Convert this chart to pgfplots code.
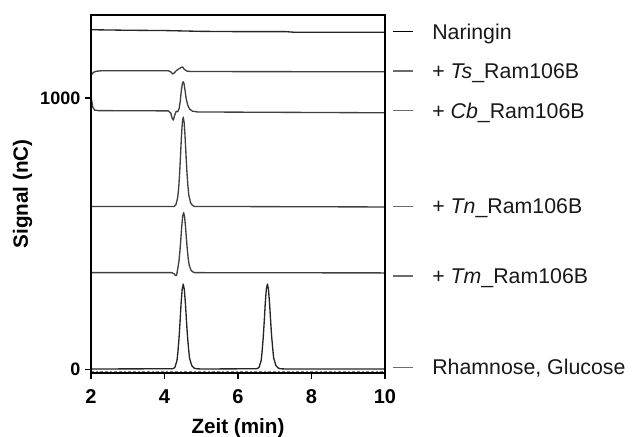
\documentclass[border=0pt]{standalone}
\usepackage{pgfplots}
\pgfplotsset{compat=1.18}
\usepackage{fontspec}
\setmainfont{Liberation Sans}
\definecolor{trace}{gray}{0.25}
\definecolor{leg}{gray}{0.42}
\begin{document}
\begin{tikzpicture}
\path[use as bounding box] (-68.25pt,-47.6pt) rectangle (405.75pt,279.4pt);
\begin{axis}[
  at={(0,0)}, anchor=south west,
  scale only axis, width=220.5pt, height=268.1pt,
  xmin=2, xmax=10, ymin=-11, ymax=1306,
  xtick={2,4,6,8,10}, ytick={0,1000},
  tick align=outside, major tick length=4.5pt,
  tick style={black, line width=1.3pt},
  xtick pos=bottom, ytick pos=left,
  /pgf/number format/assume math mode=true,
  /pgf/number format/1000 sep={},
  xticklabel style={font=\fontsize{15}{17}\selectfont\bfseries, yshift=-5pt},
  yticklabel style={font=\fontsize{13.5}{16}\selectfont\bfseries},
  xlabel={Zeit (min)}, ylabel={Signal (nC)},
  label style={font=\fontsize{15.5}{18}\selectfont\bfseries},
  xlabel style={at={(axis description cs:0.5,-0.1693)}, anchor=base},
  ylabel style={at={(axis description cs:-0.2145,0.5)}, anchor=base, rotate=0},
  clip=false,
]
% Naringin
\addplot[black!85, no marks, line width=1pt] coordinates {(2,1252) (3,1250) (4,1249) (5,1246) (6,1245) (7.3,1245) (7.5,1243) (10,1243)};
% Ts_Ram106B
\addplot[trace, no marks, line width=1pt, line join=round] coordinates {(2,1082) (2.03,1090) (2.08,1096) (2.15,1099) (2.3,1101) (4.1,1101) (4.17,1097) (4.22,1089) (4.26,1092) (4.32,1101) (4.38,1107) (4.44,1112) (4.49,1115) (4.54,1106) (4.6,1100) (4.7,1098) (10,1097)};
% Cb_Ram106B
\addplot[trace, no marks, line width=1pt, line join=round] coordinates {(2,1008) (2.02,990) (2.05,966) (2.1,956) (2.2,954) (4.1,953) (4.17,945) (4.21,925) (4.24,919) (4.28,938) (4.32,952) (4.36,950) (4.40,962) (4.43,990) (4.46,1030) (4.49,1056) (4.51,1060) (4.53,1055) (4.56,1028) (4.59,998) (4.63,975) (4.68,960) (4.76,952) (4.9,949) (10,946)};
% Tn_Ram106B
\addplot[trace, no marks, line width=1pt, line join=round] coordinates {(2,601) (4.26,601) (4.31,607) (4.36,634) (4.385,667) (4.41,719) (4.435,785) (4.46,856) (4.485,910) (4.51,930) (4.535,910) (4.56,858) (4.585,792) (4.61,729) (4.635,680) (4.66,644) (4.71,614) (4.76,605) (4.81,601) (10,599)};
% Tm_Ram106B
\addplot[trace, no marks, line width=1pt, line join=round] coordinates {(2,357) (4.2,357) (4.27,352) (4.3,346) (4.33,348) (4.37,379) (4.395,401) (4.42,437) (4.445,481) (4.47,528) (4.495,565) (4.52,578) (4.545,565) (4.57,529) (4.595,485) (4.62,443) (4.645,410) (4.67,386) (4.72,366) (4.77,360) (4.82,357) (10,356)};
% Rhamnose, Glucose
\addplot[black!85, no marks, line width=1pt, line join=round] coordinates {(2,2) (4.22,3) (4.28,7) (4.34,33) (4.365,65) (4.395,115) (4.424,177) (4.452,245) (4.481,296) (4.51,315) (4.539,296) (4.568,246) (4.596,184) (4.625,124) (4.655,77) (4.68,43) (4.74,15) (4.80,6) (4.86,3) (5.0,2)
 (6.51,3) (6.57,7) (6.63,33) (6.655,65) (6.685,115) (6.714,177) (6.742,245) (6.771,296) (6.80,315) (6.829,296) (6.858,246) (6.886,184) (6.915,124) (6.945,77) (6.97,43) (7.03,15) (7.09,6) (7.15,3) (7.3,2) (10,2)};
\addplot[gray, no marks, line width=0.6pt, dash pattern=on 2pt off 1.5pt] coordinates {(2,-5) (10,-5)};
% heavier frame
\draw[black, line width=1.5pt] (rel axis cs:0,0) rectangle (rel axis cs:1,1);
% right-hand labels
\begin{scope}[every node/.style={font=\fontsize{16}{19}\selectfont, anchor=base west, inner sep=0pt, yshift=-5.7pt, text=black!90}]
\draw[black, line width=0.9pt] ([xshift=6pt]axis cs:10,1245) -- ([xshift=21pt]axis cs:10,1245);
\node at ([xshift=35.25pt]axis cs:10,1245) {Naringin};
\draw[leg, line width=0.9pt] ([xshift=6pt]axis cs:10,1100) -- ([xshift=21pt]axis cs:10,1100);
\node at ([xshift=35.25pt]axis cs:10,1100) {+ \textit{Ts}\_Ram106B};
\draw[leg, line width=0.9pt] ([xshift=6pt]axis cs:10,953) -- ([xshift=21pt]axis cs:10,953);
\node at ([xshift=35.25pt]axis cs:10,953) {+ \textit{Cb}\_Ram106B};
\draw[leg, line width=0.9pt] ([xshift=6pt]axis cs:10,602) -- ([xshift=21pt]axis cs:10,602);
\node at ([xshift=35.25pt]axis cs:10,602) {+ \textit{Tn}\_Ram106B};
\draw[leg, line width=0.9pt] ([xshift=6pt]axis cs:10,345) -- ([xshift=21pt]axis cs:10,345);
\node at ([xshift=35.25pt]axis cs:10,345) {+ \textit{Tm}\_Ram106B};
\draw[leg, line width=0.9pt] ([xshift=6pt]axis cs:10,9) -- ([xshift=21pt]axis cs:10,9);
\node at ([xshift=35.25pt]axis cs:10,9) {Rhamnose, Glucose};
\end{scope}
\end{axis}
\end{tikzpicture}
\end{document}
